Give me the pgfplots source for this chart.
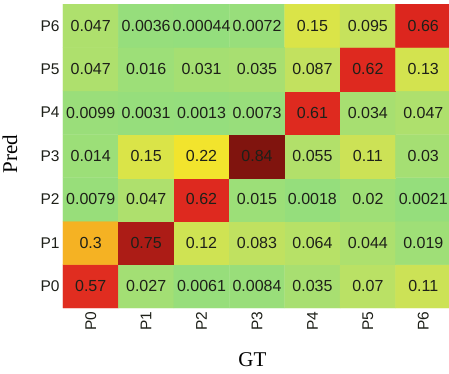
\documentclass[border=0pt]{standalone}
\usepackage{pgfplots}
\usepackage{pgfplotstable}
\pgfplotsset{compat=1.18}
\usepackage{fontspec}
\setmainfont{Liberation Serif}
\setsansfont{Liberation Sans}
\pgfplotstableread{
x y c lab
0 0 0.57 0.57
1 0 0.027 0.027
2 0 0.0061 0.0061
3 0 0.0084 0.0084
4 0 0.035 0.035
5 0 0.07 0.07
6 0 0.11 0.11
0 1 0.3 0.3
1 1 0.75 0.75
2 1 0.12 0.12
3 1 0.083 0.083
4 1 0.064 0.064
5 1 0.044 0.044
6 1 0.019 0.019
0 2 0.0079 0.0079
1 2 0.047 0.047
2 2 0.62 0.62
3 2 0.015 0.015
4 2 0.0018 0.0018
5 2 0.02 0.02
6 2 0.0021 0.0021
0 3 0.014 0.014
1 3 0.15 0.15
2 3 0.22 0.22
3 3 0.84 0.84
4 3 0.055 0.055
5 3 0.11 0.11
6 3 0.03 0.03
0 4 0.0099 0.0099
1 4 0.0031 0.0031
2 4 0.0013 0.0013
3 4 0.0073 0.0073
4 4 0.61 0.61
5 4 0.034 0.034
6 4 0.047 0.047
0 5 0.047 0.047
1 5 0.016 0.016
2 5 0.031 0.031
3 5 0.035 0.035
4 5 0.087 0.087
5 5 0.62 0.62
6 5 0.13 0.13
0 6 0.047 0.047
1 6 0.0036 0.0036
2 6 0.00044 0.00044
3 6 0.0072 0.0072
4 6 0.15 0.15
5 6 0.095 0.095
6 6 0.66 0.66
}\datatable
\definecolor{txt}{RGB}{30,32,25}
\begin{document}
\begin{tikzpicture}
\useasboundingbox (-63pt,-65pt) rectangle (386pt,308pt);
\begin{axis}[
  at={(0,0)}, anchor=south west,
  scale only axis, width=388pt, height=304pt,
  xmin=-0.5, xmax=6.5, ymin=-0.5, ymax=6.5,
  enlargelimits=false,
  axis line style={draw=none},
  major tick length=0pt,
  xtick={0,...,6}, ytick={0,...,6},
  xticklabels={P0,P1,P2,P3,P4,P5,P6},
  yticklabels={P0,P1,P2,P3,P4,P5,P6},
  ticklabel style={font=\sffamily\fontsize{15.5}{16}\selectfont, text=txt},
  xticklabel style={rotate=90, anchor=east},
  xlabel={GT}, ylabel={Pred},
  label style={font=\fontsize{21}{22}\selectfont},
  xlabel style={at={(axis description cs:0.488,-0.171)}, anchor=center},
  ylabel style={at={(axis description cs:-0.137,0.507)}, anchor=center},
  colormap={heat}{
    rgb255(0pt)=(148,222,125);
    rgb255(5pt)=(176,224,108);
    rgb255(10pt)=(200,226,90);
    rgb255(15pt)=(218,228,72);
    rgb255(22pt)=(242,228,45);
    rgb255(30pt)=(245,178,35);
    rgb255(45pt)=(236,92,32);
    rgb255(55pt)=(225,46,32);
    rgb255(66pt)=(220,38,30);
    rgb255(75pt)=(172,28,22);
    rgb255(84pt)=(128,20,14)
  },
  point meta min=0, point meta max=0.84,
]
\addplot[matrix plot*, mesh/cols=7, point meta=explicit, shader=flat corner]
  table[x=x, y=y, meta=c] {\datatable};
\addplot[draw=none, mark=none, point meta=explicit symbolic,
  nodes near coords={\pgfplotspointmeta},
  nodes near coords align={center},
  every node near coord/.append style={anchor=center, inner sep=0pt,
    font=\sffamily\fontsize{16}{16}\selectfont, text=txt}]
  table[x=x, y=y, meta=lab] {\datatable};
\end{axis}
\end{tikzpicture}
\end{document}
